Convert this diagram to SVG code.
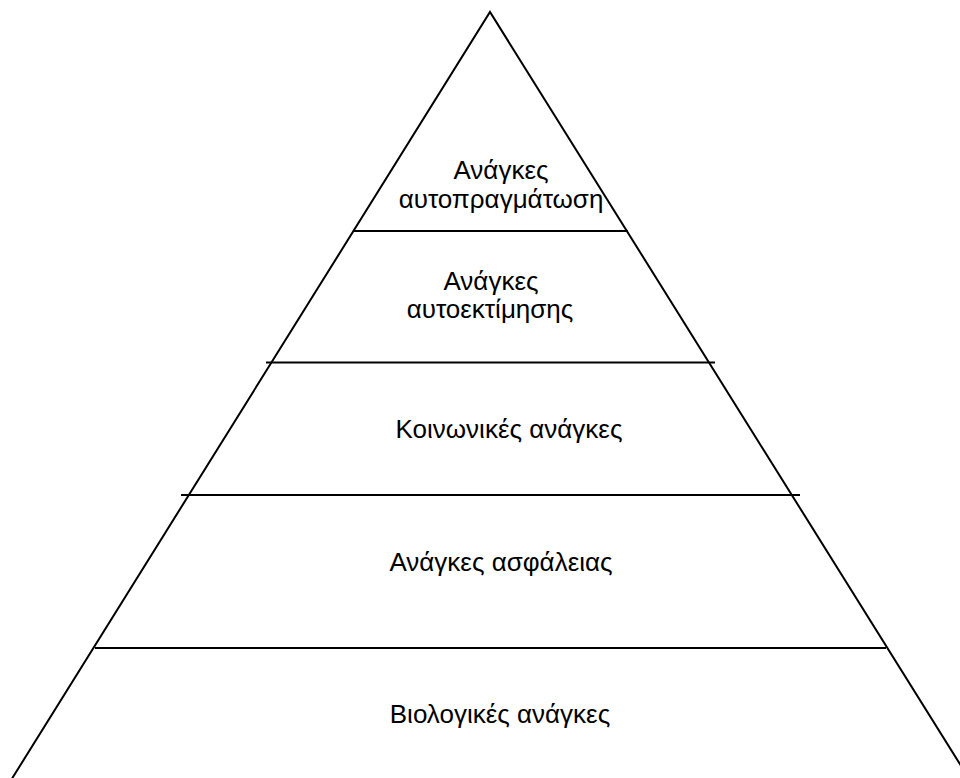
<svg xmlns="http://www.w3.org/2000/svg" width="960" height="778" viewBox="0 0 960 778">
<style>
.ln{stroke:#000;stroke-width:2;fill:none}
.t{font-family:"Liberation Sans",Arial,sans-serif;font-size:26px;fill:#000;text-anchor:middle}
</style>
<rect width="960" height="778" fill="#fff"/>
<g id="pyramid">
<polyline class="ln" points="8,785 490,12 973,785"/>
</g>
<g id="connectors">
<line class="ln" x1="353" y1="231" x2="628" y2="231"/>
<line class="ln" x1="266" y1="362.5" x2="715" y2="362.5"/>
<line class="ln" x1="181" y1="495" x2="800" y2="495"/>
<line class="ln" x1="95" y1="648" x2="886" y2="648"/>
</g>
<g id="level5"><text class="t" x="501" y="179">Ανάγκες</text><text class="t" x="501" y="208">αυτοπραγμάτωση</text></g>
<g id="level4"><text class="t" x="491" y="290">Ανάγκες</text><text class="t" x="490" y="318">αυτοεκτίμησης</text></g>
<g id="level3"><text class="t" x="509" y="438">Κοινωνικές ανάγκες</text></g>
<g id="level2"><text class="t" x="501" y="571">Ανάγκες ασφάλειας</text></g>
<g id="level1"><text class="t" x="500" y="723">Βιολογικές ανάγκες</text></g>
</svg>
